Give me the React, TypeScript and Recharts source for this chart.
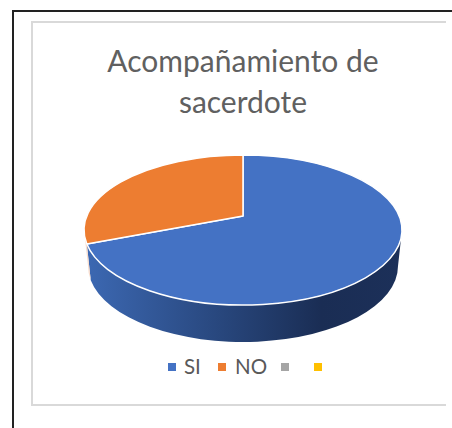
import React from "react";
import { PieChart, Pie } from "recharts";

const categories = ["SI", "NO", " ", "  "];
const values = [72, 28, 0, 0];
const colors = ["#4472C4", "#ED7D31", "#A5A5A5", "#FFC000"];
const titleLines = ["Acompañamiento de", "sacerdote"];

const data = categories.map((name, i) => ({ name, value: values[i], fill: colors[i] }));

const RY = 75;
const DEPTH = 36;
const APEX_DY = -14;

function PieSlice(props: any) {
  const { cx, cy, outerRadius: R, startAngle, endAngle, fill, index } = props;
  if (Math.abs(startAngle - endAngle) < 0.01) return null;
  const pt = (a: number, rx = R, ry = RY, oy = 0) => {
    const t = (a * Math.PI) / 180;
    return [cx + rx * Math.cos(t), cy + oy - ry * Math.sin(t)];
  };
  const [sx, sy] = pt(startAngle);
  const [ex, ey] = pt(endAngle);
  const large = Math.abs(startAngle - endAngle) > 180 ? 1 : 0;
  const top = `M${cx} ${cy + APEX_DY}L${sx} ${sy}A${R} ${RY} 0 ${large} 1 ${ex} ${ey}Z`;

  // visible wall: lower half of the ellipse (angles from 0 down to -180)
  const wStart = Math.min(startAngle, 0);
  const wEnd = Math.max(endAngle, -180);
  let wall = null;
  if (wStart > wEnd) {
    const [ax, ay] = pt(wStart);
    const [bx, by] = pt(wEnd);
    const R2 = R - 4;
    const [cx2, cy2] = pt(wEnd, R2, RY + 1, DEPTH);
    const [dx2, dy2] = pt(wStart, R2, RY + 1, DEPTH);
    const d = `M${ax} ${ay}A${R} ${RY} 0 0 1 ${bx} ${by}L${cx2} ${cy2}A${R2} ${RY + 1} 0 0 0 ${dx2} ${dy2}Z`;
    wall = <path d={d} fill={index === 0 ? "url(#wallBlue)" : "#F8DCCB"} />;
  }
  return (
    <g>
      {wall}
      <path d={top} fill={fill} stroke="#FFFFFF" strokeWidth={1.5} strokeLinejoin="round" />
    </g>
  );
}

function LegendRow({ payload }: any) {
  const lefts = [168, 218, 281, 314];
  return (
    <>
      {(payload || []).map((p: any, i: number) => (
        <React.Fragment key={i}>
          <div style={{ position: "absolute", left: lefts[i], top: 363, width: 8, height: 8, background: p.color }} />
          <div style={{ position: "absolute", left: lefts[i] + 16 + (i === 1 ? 1 : 0), top: 354, fontFamily: "Lato", fontSize: 20.5, lineHeight: "24px", color: "#595959", whiteSpace: "pre" }}>{p.value}</div>
        </React.Fragment>
      ))}
    </>
  );
}

export default function App() {
  return (
    <div style={{ position: "fixed", left: 0, top: 0, width: 452, height: 428, overflow: "hidden", background: "#fff" }}>
      <div style={{ position: "absolute", left: 12, top: 10, width: 460, height: 440, border: "2px solid #222", boxSizing: "border-box" }} />
      <div style={{ position: "absolute", left: 31, top: 21, width: 415, height: 385, borderLeft: "2px solid #D9D9D9", borderTop: "2px solid #D9D9D9", borderBottom: "2px solid #D9D9D9", boxSizing: "border-box" }} />
      <div style={{ position: "absolute", left: 0, top: 0 }}>
        <PieChart width={452} height={428} margin={{ top: 0, right: 0, bottom: 0, left: 0 }}>
          <defs>
            <linearGradient id="wallBlue" gradientUnits="userSpaceOnUse" x1="87" y1="0" x2="400" y2="0">
              <stop offset="0" stopColor="#3C68B2" />
              <stop offset="0.45" stopColor="#27457A" />
              <stop offset="0.75" stopColor="#1A2D54" />
              <stop offset="1" stopColor="#1C3059" />
            </linearGradient>
          </defs>
          <text textAnchor="middle" fontFamily="Lato" fontWeight={400} fontSize={30} fill="#606060">
            <tspan x={243} y={72}>{titleLines[0]}</tspan>
            <tspan x={243} y={113}>{titleLines[1]}</tspan>
          </text>
          <Pie
            data={data}
            dataKey="value"
            nameKey="name"
            cx={243}
            cy={230}
            outerRadius={159}
            startAngle={90}
            endAngle={-270}
            legendType="square"
            isAnimationActive={false}
            shape={PieSlice}
          />
        </PieChart>
      </div>
      <LegendRow payload={data.map((d) => ({ color: d.fill, value: d.name }))} />
    </div>
  );
}
